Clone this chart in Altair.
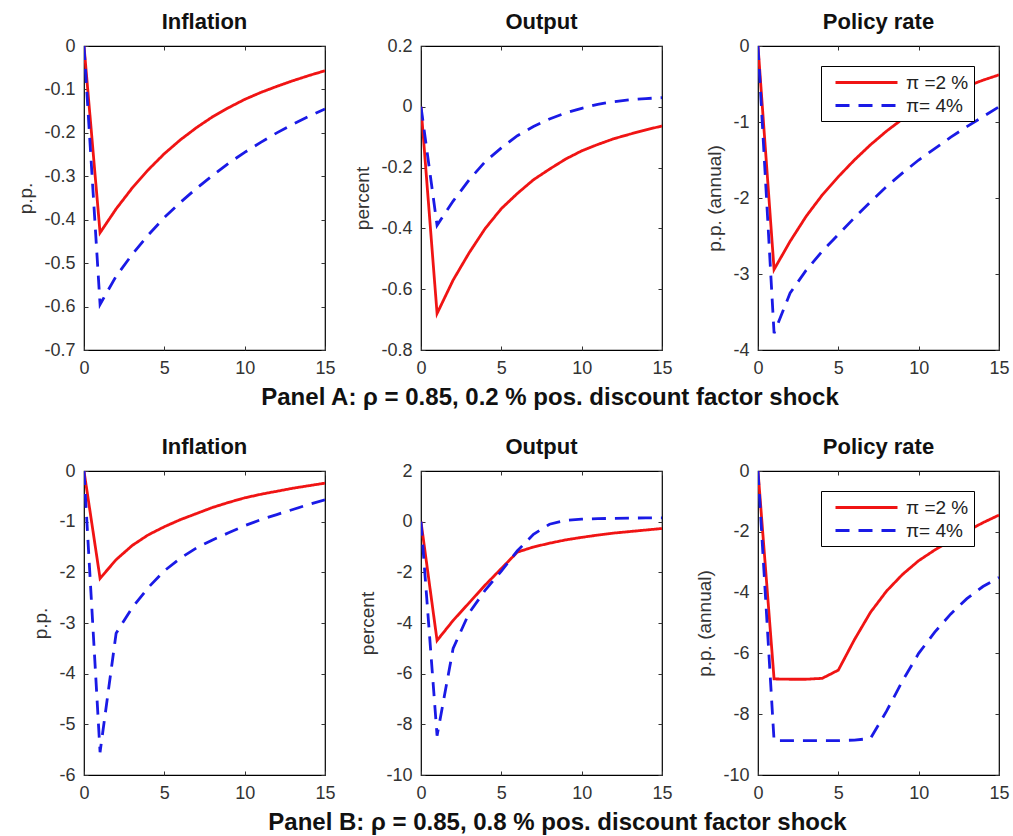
import altair as alt
import pandas as pd

T = list(range(16))
SERIES = ["π =2 %", "π= 4%"]

# Panel A (0.2 % shock)
A_INFL_2 = [0, -0.43, -0.375, -0.327, -0.285, -0.248, -0.216, -0.188, -0.163, -0.142, -0.123, -0.107, -0.093, -0.080, -0.068, -0.057]
A_INFL_4 = [0, -0.595, -0.53, -0.48, -0.435, -0.395, -0.36, -0.328, -0.298, -0.27, -0.245, -0.222, -0.2, -0.18, -0.162, -0.145]
A_OUT_2 = [0, -0.68, -0.57, -0.48, -0.40, -0.335, -0.285, -0.24, -0.205, -0.172, -0.145, -0.124, -0.105, -0.09, -0.076, -0.063]
A_OUT_4 = [0, -0.39, -0.31, -0.24, -0.18, -0.135, -0.095, -0.065, -0.04, -0.02, -0.005, 0.008, 0.017, 0.023, 0.027, 0.03]
A_RATE_2 = [0, -2.94, -2.57, -2.24, -1.96, -1.72, -1.5, -1.3, -1.12, -0.96, -0.83, -0.72, -0.62, -0.53, -0.45, -0.38]
A_RATE_4 = [0, -3.78, -3.25, -2.95, -2.7, -2.48, -2.26, -2.05, -1.85, -1.67, -1.5, -1.35, -1.2, -1.06, -0.93, -0.8]

# Panel B (0.8 % shock)
B_INFL_2 = [0, -2.12, -1.75, -1.47, -1.26, -1.1, -0.96, -0.84, -0.72, -0.62, -0.53, -0.46, -0.4, -0.34, -0.29, -0.24]
B_INFL_4 = [0, -5.55, -3.2, -2.7, -2.3, -1.97, -1.72, -1.52, -1.36, -1.22, -1.08, -0.96, -0.86, -0.76, -0.66, -0.57]
B_OUT_2 = [0, -4.69, -3.9, -3.2, -2.5, -1.85, -1.2, -1.0, -0.85, -0.72, -0.62, -0.53, -0.45, -0.39, -0.33, -0.27]
B_OUT_4 = [0, -8.45, -5.0, -3.6, -2.7, -1.95, -1.15, -0.5, -0.1, 0.05, 0.1, 0.12, 0.13, 0.14, 0.15, 0.15]
B_RATE_2 = [0, -6.84, -6.85, -6.85, -6.82, -6.55, -5.55, -4.65, -3.95, -3.4, -2.95, -2.6, -2.28, -1.98, -1.7, -1.45]
B_RATE_4 = [0, -8.87, -8.87, -8.87, -8.87, -8.87, -8.85, -8.8, -7.9, -6.9, -6.0, -5.3, -4.7, -4.2, -3.8, -3.5]

X_TICKS = [0, 5, 10, 15]
Y_A_INFL = [-0.7, -0.6, -0.5, -0.4, -0.3, -0.2, -0.1, 0]
Y_A_OUT = [-0.8, -0.6, -0.4, -0.2, 0, 0.2]
Y_A_RATE = [-4, -3, -2, -1, 0]
Y_B_INFL = [-6, -5, -4, -3, -2, -1, 0]
Y_B_OUT = [-10, -8, -6, -4, -2, 0, 2]
Y_B_RATE = [-10, -8, -6, -4, -2, 0]

CAPTION_A = "Panel A: ρ = 0.85, 0.2 % pos. discount factor shock"
CAPTION_B = "Panel B: ρ = 0.85, 0.8 % pos. discount factor shock"

RED = "#f01414"
BLUE = "#1a1ae6"
FONT = "Liberation Sans"
W, H = 241, 304


def panel(v2, v4, title, ytitle, yvals, show_legend):
    df = pd.DataFrame({
        "t": T + T,
        "v": v2 + v4,
        "s": [SERIES[0]] * len(T) + [SERIES[1]] * len(T),
    })
    if show_legend:
        leg = alt.Legend(
            title=None, orient="none", legendX=63, legendY=20,
            symbolType="M-3.1,0H3.1", symbolSize=400, symbolStrokeWidth=2.8,
            symbolOffset=29, labelOffset=28,
            labelFontSize=19, labelFont=FONT, labelColor="#222",
            strokeColor="black", fillColor="white", padding=5,
            rowPadding=1,
        )
    else:
        leg = None
    xsc = alt.Scale(domain=[0, 15], nice=False)
    ysc = alt.Scale(domain=[min(yvals), max(yvals)], nice=False, zero=False)
    main = alt.Chart(df).mark_line(strokeWidth=2.8, clip=True).encode(
        x=alt.X("t:Q", scale=xsc, axis=alt.Axis(values=X_TICKS, title=None, labelFlush=False)),
        y=alt.Y("v:Q", scale=ysc,
                axis=alt.Axis(values=yvals, title=ytitle, labelExpr="'' + datum.value", labelFlush=False)),
        color=alt.Color("s:N", scale=alt.Scale(domain=SERIES, range=[RED, BLUE]), legend=leg),
        strokeDash=alt.StrokeDash("s:N", scale=alt.Scale(domain=SERIES, range=[[1, 0], [14, 9]]), legend=leg),
    )
    ghost = alt.Chart(df).mark_line(opacity=0).encode(
        x=alt.X("t:Q", scale=xsc, axis=alt.Axis(values=X_TICKS, title=None, labels=False, orient="top")),
        y=alt.Y("v:Q", scale=ysc, axis=alt.Axis(values=yvals, title=None, labels=False, orient="right")),
    )
    return alt.layer(main, ghost).resolve_axis(x="independent", y="independent").properties(
        width=W, height=H,
        title=alt.TitleParams(title, frame="group", anchor="middle", fontSize=22,
                              fontWeight="bold", font=FONT, color="#111", offset=3),
    )


def row(panels, caption):
    return alt.hconcat(*panels, spacing=96, bounds="flush").properties(
        title=alt.TitleParams(caption, orient="bottom", anchor="middle", dx=37,
                              fontSize=24, fontWeight="bold", font=FONT, color="#111", offset=8)
    ).resolve_scale(color="independent", strokeDash="independent")


row_a = row([
    panel(A_INFL_2, A_INFL_4, "Inflation", "p.p.", Y_A_INFL, False),
    panel(A_OUT_2, A_OUT_4, "Output", "percent", Y_A_OUT, False),
    panel(A_RATE_2, A_RATE_4, "Policy rate", "p.p. (annual)", Y_A_RATE, True),
], CAPTION_A)

row_b = row([
    panel(B_INFL_2, B_INFL_4, "Inflation", "p.p.", Y_B_INFL, False),
    panel(B_OUT_2, B_OUT_4, "Output", "percent", Y_B_OUT, False),
    panel(B_RATE_2, B_RATE_4, "Policy rate", "p.p. (annual)", Y_B_RATE, True),
], CAPTION_B)

chart = alt.vconcat(row_a, row_b, spacing=25).resolve_scale(
    color="independent", strokeDash="independent"
).properties(
    padding={"left": 16, "top": 10, "right": 3, "bottom": 0}
).configure_view(
    stroke="black", strokeWidth=1.2
).configure_axis(
    labelFont=FONT, labelFontSize=18, labelColor="#333",
    titleFont=FONT, titleFontSize=19, titleFontWeight="normal", titleColor="#333",
    grid=False, domain=False, tickColor="#333", tickSize=4, offset=-4,
    labelPadding=9, titlePadding=8,
)

chart.save("out.html", embed_options={"renderer": "svg", "actions": False})
